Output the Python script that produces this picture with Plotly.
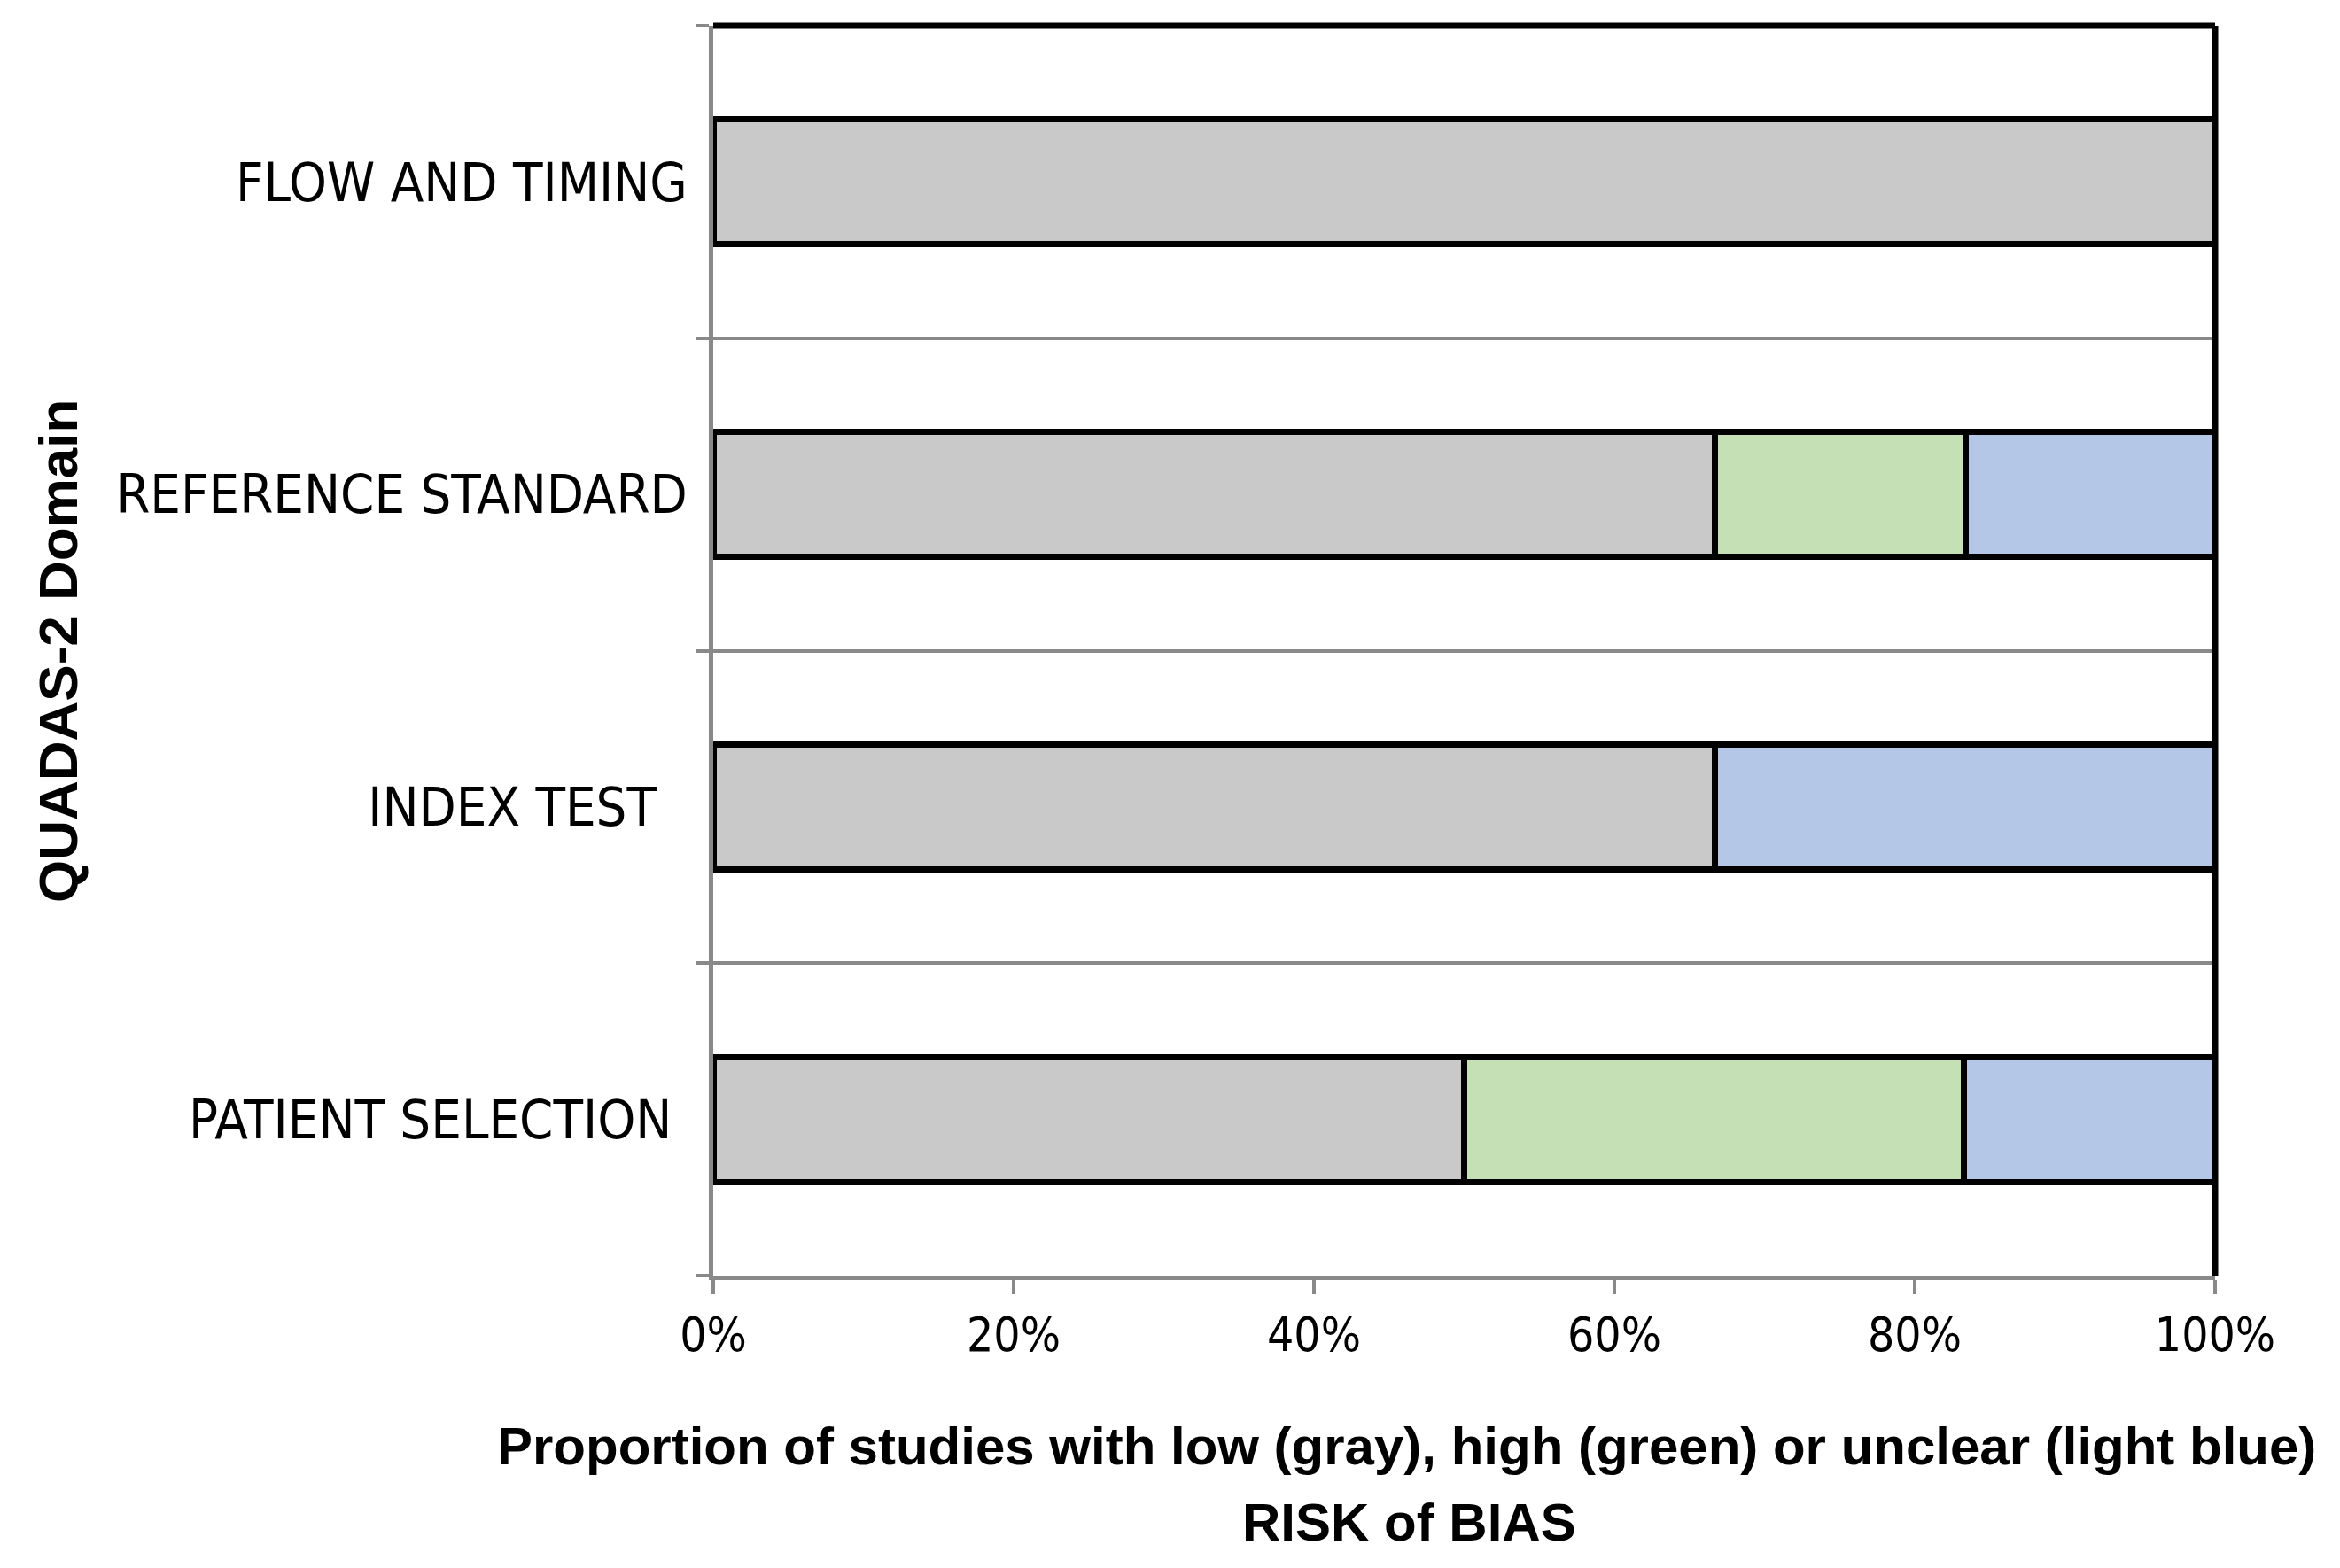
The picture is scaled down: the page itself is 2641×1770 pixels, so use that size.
import plotly.graph_objects as go

# Categories (bottom to top), with the trailing spaces seen in the original labels
domains = ["PATIENT SELECTION\u00a0", "INDEX TEST\u00a0\u00a0", "REFERENCE STANDARD", "FLOW AND TIMING"]

# Proportion of studies (%) per risk-of-bias judgement
low_gray = [50.0, 66.7, 66.7, 100.0]
high_green = [33.3, 0.0, 16.7, 0.0]
unclear_blue = [16.7, 33.3, 16.6, 0.0]

x_tick_vals = [0, 20, 40, 60, 80, 100]
x_tick_text = ["0%", "20%", "40%", "60%", "80%", "100%"]

colors = {"low": "#C9C9C9", "high": "#C5E0B4", "unclear": "#B4C7E7"}

narrow = "Liberation Sans Narrow, DejaVu Sans Condensed, Arial Narrow, sans-serif"
ytick_font = dict(family=narrow, size=61, color="#000000")
xtick_font = dict(family=narrow, size=53, color="#000000")
title_family = "Liberation Sans, Arial, sans-serif"

fig = go.Figure()
for name, vals, col in [("low", low_gray, colors["low"]),
                        ("high", high_green, colors["high"]),
                        ("unclear", unclear_blue, colors["unclear"])]:
    fig.add_trace(go.Bar(
        y=domains, x=vals, orientation="h", name=name,
        marker=dict(color=col, line=dict(color="#000000", width=7)),
        showlegend=False,
    ))

# page body has an 8px default margin; figure sized to fit the window
OFF = 8
W, H = 2641 - OFF, 1770 - OFF
L = 805 - OFF
T = 29 - OFF
R = W - (2500 - OFF)
B = H - (1440 - OFF)
PW, PH = W - L - R, H - T - B


def px(xpage):
    return (xpage - OFF - L) / PW


def py(ypage):
    return (H - B - (ypage - OFF)) / PH


fig.update_layout(
    width=W, height=H,
    barmode="stack", bargap=0.6,
    plot_bgcolor="#FFFFFF", paper_bgcolor="#FFFFFF",
    margin=dict(l=L, r=R, t=T, b=B, pad=0, autoexpand=False),
    xaxis=dict(range=[0, 100], tickvals=x_tick_vals, ticktext=x_tick_text,
               showgrid=False, zeroline=False, automargin=False,
               showline=True, linecolor="#898989", linewidth=5,
               ticks="outside", ticklen=16, tickwidth=4, tickcolor="#898989",
               tickfont=xtick_font, ticklabelstandoff=0),
    yaxis=dict(type="category", categoryorder="array", categoryarray=domains,
               tickson="boundaries", showgrid=True, gridcolor="#898989", gridwidth=4,
               showline=True, linecolor="#898989", linewidth=5, automargin=False,
               ticks="outside", ticklen=15, tickwidth=4, tickcolor="#898989",
               tickfont=ytick_font, ticklabelstandoff=12, zeroline=False),
    shapes=[
        dict(type="line", xref="paper", yref="paper", x0=0, x1=1, y0=1, y1=1,
             line=dict(color="#000000", width=7), layer="above"),
        dict(type="line", xref="paper", yref="paper", x0=1, x1=1, y0=0, y1=1,
             line=dict(color="#000000", width=7), layer="above"),
    ],
    annotations=[
        dict(text="<b>QUADAS-2 Domain</b>", xref="paper", yref="paper",
             x=px(65), y=py(735),
             textangle=-90, showarrow=False, xanchor="center", yanchor="middle",
             font=dict(size=62, family=title_family, color="#000000")),
        dict(text="<b>Proportion of studies with low (gray), high (green) or unclear (light blue)</b>",
             xref="paper", yref="paper",
             x=px(1587), y=py(1632),
             showarrow=False, xanchor="center", yanchor="middle",
             font=dict(size=60, family=title_family, color="#000000")),
        dict(text="<b>RISK of BIAS</b>", xref="paper", yref="paper",
             x=px(1590), y=py(1718),
             showarrow=False, xanchor="center", yanchor="middle",
             font=dict(size=60, family=title_family, color="#000000")),
    ],
)

fig.write_html("out.html")
